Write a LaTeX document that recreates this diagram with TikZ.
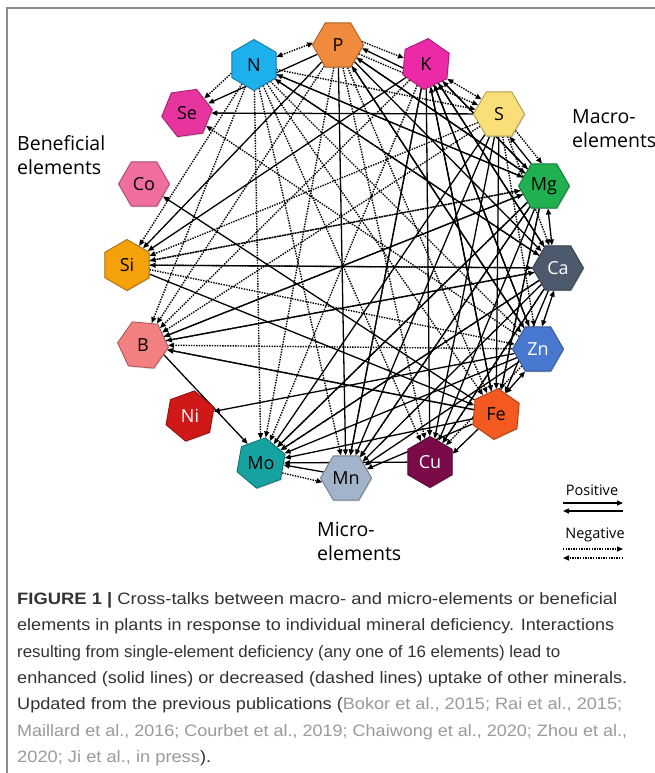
\documentclass[tikz,border=0pt]{standalone}
\usepackage{fontspec}
\setmainfont{Liberation Sans}
\newfontfamily\lblfont{Open Sans}
\newfontfamily\capfont{Liberation Sans}
\usetikzlibrary{shapes.geometric,arrows.meta,shadows}
\pgfdeclarelayer{bg}
\pgfsetlayers{bg,main}
\definecolor{cP}{HTML}{F08A3C}
\definecolor{cN}{HTML}{1CB0EC}
\definecolor{cK}{HTML}{EC2AA8}
\definecolor{cSe}{HTML}{E8349E}
\definecolor{cS}{HTML}{FADF78}
\definecolor{cCo}{HTML}{F06E9E}
\definecolor{cMg}{HTML}{20B050}
\definecolor{cSi}{HTML}{F5A20A}
\definecolor{cCa}{HTML}{4D5A6E}
\definecolor{cB}{HTML}{F28080}
\definecolor{cZn}{HTML}{4878D0}
\definecolor{cNi}{HTML}{D01818}
\definecolor{cFe}{HTML}{F45A20}
\definecolor{cMo}{HTML}{17A2A2}
\definecolor{cMn}{HTML}{A3B3CA}
\definecolor{cCu}{HTML}{7A0A48}
\definecolor{capdark}{HTML}{333333}
\definecolor{capgray}{HTML}{9A9A9A}
\definecolor{framegray}{HTML}{8C8C8C}
\begin{document}
\begin{tikzpicture}[x=1pt,y=-1pt,
  hexa/.style={regular polygon, regular polygon sides=6, minimum size=51pt, inner sep=0pt,
    line width=0.9pt, font=\lblfont\fontsize{18}{18}\selectfont,
    drop shadow={opacity=0.25, shadow xshift=1pt, shadow yshift=-1.2pt}},
  el/.style={hexa, fill=#1, draw=#1!70!black},
  arrtip/.style={-{Triangle[length=6pt,width=5pt]}},
  posarr/.style={line width=1.3pt, arrtip},
  negarr/.style={line width=1.4pt, dash pattern=on 1.4pt off 1.2pt, arrtip},
  biposarr/.style={line width=1.3pt, {Triangle[length=6pt,width=5pt]}-{Triangle[length=6pt,width=5pt]}},
  binegarr/.style={line width=1.4pt, dash pattern=on 1.4pt off 1.2pt, {Triangle[length=6pt,width=5pt]}-{Triangle[length=6pt,width=5pt]}},
  grplbl/.style={font=\lblfont\fontsize{19.5}{24}\selectfont, align=left, anchor=west, inner sep=0pt},
  leglbl/.style={font=\lblfont\fontsize{14.5}{16}\selectfont, inner sep=0pt},
  capline/.style={anchor=base west, inner sep=0pt, font=\capfont\fontsize{16.5}{20}\selectfont, text=capdark}
]
\useasboundingbox (0,0) rectangle (655,773);

% element nodes
\node[el=cP, shape border rotate=0] (P) at (338,45) {P};
\node[el=cN, shape border rotate=30] (N) at (254,65) {N};
\node[el=cK, shape border rotate=25] (K) at (426,64) {K};
\node[el=cSe, shape border rotate=8] (Se) at (187,113) {Se};
\node[el=cS, shape border rotate=0] (S) at (499,114) {S};
\node[el=cCo, shape border rotate=0] (Co) at (144,184) {Co};
\node[el=cMg, shape border rotate=0] (Mg) at (544,186) {Mg};
\node[el=cSi, shape border rotate=30] (Si) at (127,265) {Si};
\node[el=cCa, shape border rotate=0, text=white] (Ca) at (558,268) {Ca};
\node[el=cB, shape border rotate=-5] (B) at (143,345) {B};
\node[el=cZn, shape border rotate=0, text=white] (Zn) at (538,349) {Zn};
\node[el=cNi, shape border rotate=20, text=white] (Ni) at (190,416) {Ni};
\node[el=cFe, shape border rotate=25] (Fe) at (496,414) {Fe};
\node[el=cMo, shape border rotate=20] (Mo) at (261,463) {Mo};
\node[el=cMn, shape border rotate=0] (Mn) at (346,478) {Mn};
\node[el=cCu, shape border rotate=30, text=white] (Cu) at (430,462) {Cu};

% group labels
\node[grplbl] (lbene) at (17,155) {Beneficial\\elements};
\node[grplbl] (lmacro) at (572,129) {Macro-\\elements};
\node[grplbl] (lmicro) at (317,541) {Micro-\\elements};

\begin{pgfonlayer}{bg}
\fill[white] (0,0) rectangle (655,773);
\draw[framegray, line width=1.3pt] (655,8) -- (7,8) -- (7,773);
% neighbouring pairs
\draw[binegarr] (N.20) -- (P.175);
\draw[negarr] (P.8) -- (K.165);
\draw[posarr] (K.190) -- (P.-8);
\draw[binegarr] (K.-35) -- (S.140);
\draw[negarr] (S.-45) -- (Mg.95);
\draw[posarr] (Mg.120) -- (S.-65);
\draw[biposarr] (Mg.-80) -- (Ca.105);
\draw[biposarr] (Ca.-100) -- (Zn.80);
\draw[biposarr] (Zn.-120) -- (Fe.65);
\draw[posarr] (Fe.-140) -- (Cu.20);
\draw[posarr] (Mn.165) -- (Mo.-5);
\draw[negarr] (Mo.-25) -- (Mn.190);
\draw[negarr] (N.200) -- (Se.40);
\draw[posarr] (B.-25) -- (Mo.125);

% positive interactions
\foreach \a/\b in {P/Se, S/Se, P/Si, K/Si, Si/Ca, Si/Fe, Fe/Co, Zn/Ni, Fe/B, Ca/B, Mg/B,
  S/Mo, P/Mn, K/Cu, S/Fe, Fe/Mo, Cu/Mo, Zn/Mo, Ca/Mo, Mg/Mn, Ca/Mn, Fe/Mn, Zn/Mn,
  K/Mn, S/Mn, P/Mg, P/Ca, P/Zn, K/Mg, K/Ca, K/Zn, K/Fe, Mg/K, Ca/K, Mg/P, Zn/P, Ca/N,
  Mg/N, Mg/Cu, Ca/Cu, S/Cu, Mg/Fe, Ca/Fe, Zn/K, Fe/K, Mg/Mo}
  \draw[posarr] (\a) -- (\b);

% negative interactions
\foreach \a/\b in {Zn/Se, N/B, P/B, Zn/B, Fe/B, N/Mo, P/Mo, N/Mn, N/Cu, N/Fe, N/Zn, N/Ca,
  N/Mg, N/S, P/S, Mg/Si, Ca/Si, Mg/Mo, Ca/Mo, P/Cu, K/Mo, K/Mn, Mg/Mn, S/B, S/Zn, S/Ca,
  K/B, N/Si, Ca/Cu, Mg/Fe, Si/Mg, B/Ca, P/Fe, Zn/Cu, S/Si, B/Mg, Si/Zn}
  \draw[negarr] (\a) -- (\b);
\end{pgfonlayer}

% legend
\node[leglbl] (lpos) at (592,490) {Positive};
\coordinate (pa1) at (563,503); \coordinate (pa2) at (623,503);
\coordinate (pb1) at (623,511); \coordinate (pb2) at (563,511);
\draw[posarr] (pa1) -- (pa2);
\draw[posarr] (pb1) -- (pb2);
\node[leglbl] (lneg) at (595,535) {Negative};
\coordinate (na1) at (563,549); \coordinate (na2) at (623,549);
\coordinate (nb1) at (623,558); \coordinate (nb2) at (563,558);
\draw[negarr] (na1) -- (na2);
\draw[negarr] (nb1) -- (nb2);

% caption
\node[capline] (c1) at (17,604) {\resizebox{600pt}{\height}{\textbf{FIGURE 1 |} Cross-talks between macro- and micro-elements or beneficial}};
\node[capline] (c2) at (17,630.5) {\resizebox{597pt}{\height}{elements in plants in response to individual mineral deficiency. Interactions}};
\node[capline] (c3) at (17,657) {\resizebox{543pt}{\height}{resulting from single-element deficiency (any one of 16 elements) lead to}};
\node[capline] (c4) at (17,683) {\resizebox{610pt}{\height}{enhanced (solid lines) or decreased (dashed lines) uptake of other minerals.}};
\node[capline] (c5) at (17,709.5) {\resizebox{605pt}{\height}{Updated from the previous publications (\textcolor{capgray}{Bokor et al., 2015; Rai et al., 2015;}}};
\node[capline] (c6) at (17,736) {\resizebox{610pt}{\height}{\textcolor{capgray}{Maillard et al., 2016; Courbet et al., 2019; Chaiwong et al., 2020; Zhou et al.,}}};
\node[capline] (c7) at (17,762) {\resizebox{194pt}{\height}{\textcolor{capgray}{2020; Ji et al., in press}).}};
\end{tikzpicture}
\end{document}
